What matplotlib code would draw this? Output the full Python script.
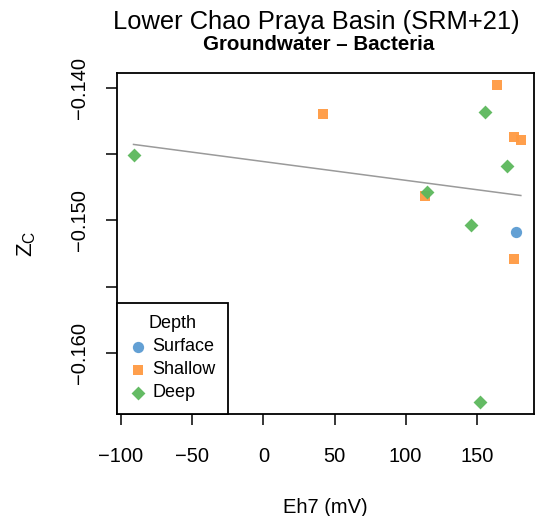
"""Lower Chao Praya Basin (SRM+21): Z_C vs Eh7 for groundwater bacteria."""

import numpy as np
import matplotlib
import matplotlib.pyplot as plt

matplotlib.use("Agg")

plt.rcParams["font.family"] = ["Liberation Sans", "DejaVu Sans"]
plt.rcParams["mathtext.fontset"] = "custom"
plt.rcParams["mathtext.rm"] = "Liberation Sans"

# ── data ─────────────────────────────────────────────────────────────────────
surface_eh7 = [177.4]
surface_zc = [-0.15089]

shallow_eh7 = [164.1, 41.6, 175.8, 180.9, 113.6, 176.2]
shallow_zc = [-0.13982, -0.14198, -0.14369, -0.14394, -0.14816, -0.15290]

deep_eh7 = [-91.2, 155.5, 171.3, 115.2, 146.1, 152.4]
deep_zc = [-0.14507, -0.14181, -0.14590, -0.14788, -0.15034, -0.16372]

groups = ["Surface", "Shallow", "Deep"]
colors = {"Surface": "#5b9bd2", "Shallow": "#ff9a42", "Deep": "#5cb85c"}
markers = {"Surface": "o", "Shallow": "s", "Deep": "D"}
sizes = {"Surface": 66, "Shallow": 60, "Deep": 50}

# ── figure ───────────────────────────────────────────────────────────────────
fig = plt.figure(figsize=(5.36, 5.16), dpi=100)
ax = fig.add_axes([0.2183, 0.1977, 0.7789, 0.6614])

# regression on all points
all_x = np.array(surface_eh7 + shallow_eh7 + deep_eh7)
all_y = np.array(surface_zc + shallow_zc + deep_zc)
slope, icpt = np.polyfit(all_x, all_y, 1)
xl = np.array([all_x.min(), all_x.max()])
ax.plot(xl, icpt + slope * xl, color="#9a9a9a", lw=1.1, zorder=1)

data = {
    "Surface": (surface_eh7, surface_zc),
    "Shallow": (shallow_eh7, shallow_zc),
    "Deep": (deep_eh7, deep_zc),
}
for g in ["Deep", "Shallow", "Surface"]:
    xs, ys = data[g]
    ax.scatter(xs, ys, s=sizes[g], marker=markers[g], color=colors[g],
               alpha=0.95, linewidths=0, zorder=2 + groups.index(g), label=g)

ax.set_xlim(-102.8, 190.5)
ax.set_ylim(-0.16459, -0.13887)
ax.set_xticks([-100, -50, 0, 50, 100, 150])
ax.set_xticklabels(["\u2212100", "\u221250", "0", "50", "100", "150"])
ax.set_yticks([-0.140, -0.145, -0.150, -0.155, -0.160])
ax.set_yticklabels(["\u22120.140", "", "\u22120.150", "", "\u22120.160"],
                   rotation=90, va="center")

ax.tick_params(axis="both", direction="out", length=8, width=1.1,
               labelsize=14.5, color="black")
ax.tick_params(axis="x", pad=15.5)
ax.tick_params(axis="y", pad=12)
for sp in ax.spines.values():
    sp.set_linewidth(1.3)

ax.set_xlabel("Eh7 (mV)", fontsize=14.5, labelpad=23)
ax.set_ylabel(r"$\mathrm{Z_C}$", fontsize=16, labelpad=23)

fig.text(0.59, 1 - 29 / 516, "Lower Chao Praya Basin (SRM+21)", fontsize=18.4,
         ha="center", va="baseline")
fig.text(0.595, 1 - 50 / 516, "Groundwater \u2013 Bacteria", fontsize=14.8,
         fontweight="bold", ha="center", va="baseline")

# legend in Surface / Shallow / Deep order
handles, labels = ax.get_legend_handles_labels()
order = [labels.index(g) for g in groups]
leg = ax.legend([handles[i] for i in order], [labels[i] for i in order],
                title="Depth", loc="lower left", bbox_to_anchor=(0, 0),
                borderaxespad=0, fontsize=13, title_fontsize=13,
                fancybox=False, edgecolor="black", framealpha=1,
                handletextpad=0.35, labelspacing=0.33, borderpad=0.7,
                handlelength=0.9)
leg.get_frame().set_linewidth(1.3)

fig.savefig("out.png", dpi=100)
